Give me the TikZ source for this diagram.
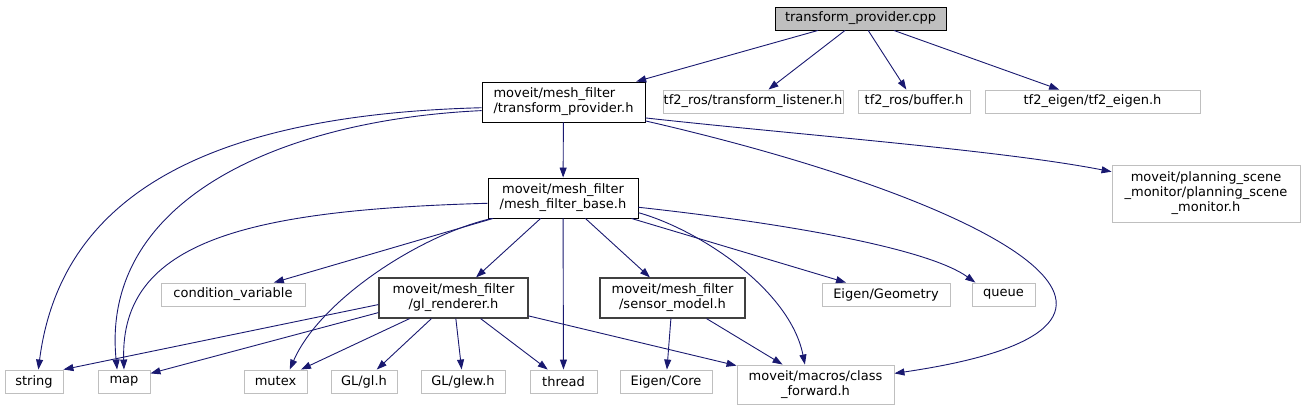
\documentclass[tikz,border=0pt]{standalone}
\usepackage{fontspec}
\setmainfont{DejaVu Sans}
\usetikzlibrary{arrows.meta}

\definecolor{edgeblue}{HTML}{191970}
\definecolor{boxgray}{HTML}{BFBFBF}
\definecolor{boxdark}{HTML}{404040}

\begin{document}
\begin{tikzpicture}[x=1pt, y=-1pt, >={Triangle[length=10pt,width=7pt]}, font=\fontsize{13}{15}\selectfont]
    % Styles
    \tikzstyle{file} = [rectangle, draw=black, fill=white, line width=0.9pt, minimum height=23pt, inner sep=0pt, align=center]
    \tikzstyle{sysfile} = [file, draw=boxgray]
    \tikzstyle{header} = [file, draw=boxdark, line width=1.2pt]
    \tikzstyle{line} = [draw=edgeblue, ->, line width=0.9pt]

    \useasboundingbox (0,0) rectangle (1303,409);

    % Nodes
    \node [file, fill=boxgray, minimum width=171pt] (root) at (860.5,18.5) {transform\_provider.cpp};
    \node [file, minimum width=163pt, minimum height=40pt, align=left] (tp) at (563.5,102) {moveit/mesh\_filter\\/transform\_provider.h};
    \node [sysfile, minimum width=180pt] (listener) at (753,101.5) {tf2\_ros/transform\_listener.h};
    \node [sysfile, minimum width=112pt] (buffer) at (914,101.5) {tf2\_ros/buffer.h};
    \node [sysfile, minimum width=215pt] (tfeigen) at (1092.5,101.5) {tf2\_eigen/tf2\_eigen.h};
    \node [sysfile, minimum width=188pt, minimum height=57pt] (psm) at (1206,193.5) {moveit/planning\_scene\\\_monitor/planning\_scene\\\_monitor.h};
    \node [file, minimum width=150pt, minimum height=40pt] (mfb) at (563,198) {moveit/mesh\_filter\\/mesh\_filter\_base.h};
    \node [sysfile, minimum width=144pt] (condvar) at (233,294.5) {condition\_variable};
    \node [header, minimum width=149pt, minimum height=40pt] (glr) at (453.5,298) {moveit/mesh\_filter\\/gl\_renderer.h};
    \node [header, minimum width=145pt, minimum height=40pt] (sm) at (672.5,298) {moveit/mesh\_filter\\/sensor\_model.h};
    \node [sysfile, minimum width=128pt] (geometry) at (886,294.5) {Eigen/Geometry};
    \node [sysfile, minimum width=63pt] (queue) at (1003.5,294.5) {queue};
    \node [sysfile, minimum width=58pt] (string) at (34,381.5) {string};
    \node [sysfile, minimum width=52pt] (map) at (124,381.5) {map};
    \node [sysfile, minimum width=63pt] (mutex) at (275.5,381.5) {mutex};
    \node [sysfile, minimum width=66pt] (glh) at (364,381.5) {GL/gl.h};
    \node [sysfile, minimum width=84pt] (glewh) at (463,381.5) {GL/glew.h};
    \node [sysfile, minimum width=67pt] (thread) at (563.5,381.5) {thread};
    \node [sysfile, minimum width=92pt] (eigencore) at (666,381.5) {Eigen/Core};
    \node [sysfile, minimum width=157pt, minimum height=39pt] (classfwd) at (815.5,384.5) {moveit/macros/class\\\_forward.h};

    % From transform_provider.cpp
    \path [line] (root) -- (tp);
    \path [line] (root) -- (listener);
    \path [line] (root) -- (buffer);
    \path [line] (root) -- (tfeigen);

    % From transform_provider.h
    \path [line] (tp.184) .. controls (200,115) and (60,200) .. (string.70);
    \path [line] (tp.186) .. controls (280,120) and (100,200) .. (map.120);
    \path [line] (tp) -- (mfb);
    \path [line] (tp.-11) .. controls (800,135) and (1000,150) .. (psm.167);
    \path [line] (tp.-13) .. controls (990,200) and (1225,325) .. (classfwd.8);

    % From mesh_filter_base.h
    \path [line] (mfb.184) .. controls (250,210) and (120,240) .. (map.north);
    \path [line] (mfb) -- (condvar);
    \path [line] (mfb.196) .. controls (420,235) and (320,300) .. (mutex.40);
    \path [line] (mfb) -- (glr);
    \path [line] (mfb) -- (thread);
    \path [line] (mfb) -- (sm);
    \path [line] (mfb.-11) .. controls (700,230) and (790,290) .. (classfwd.118);
    \path [line] (mfb) -- (geometry);
    \path [line] (mfb.-7) .. controls (800,225) and (930,250) .. (queue.157);

    % From gl_renderer.h
    \path [line] (glr.185) -- (string.north east);
    \path [line] (glr.191) -- (map.17);
    \path [line] (glr) -- (mutex);
    \path [line] (glr) -- (glh);
    \path [line] (glr) -- (glewh);
    \path [line] (glr) -- (thread);
    \path [line] (glr) -- (classfwd);

    % From sensor_model.h
    \path [line] (sm) -- (eigencore);
    \path [line] (sm) -- (classfwd);
\end{tikzpicture}
\end{document}
